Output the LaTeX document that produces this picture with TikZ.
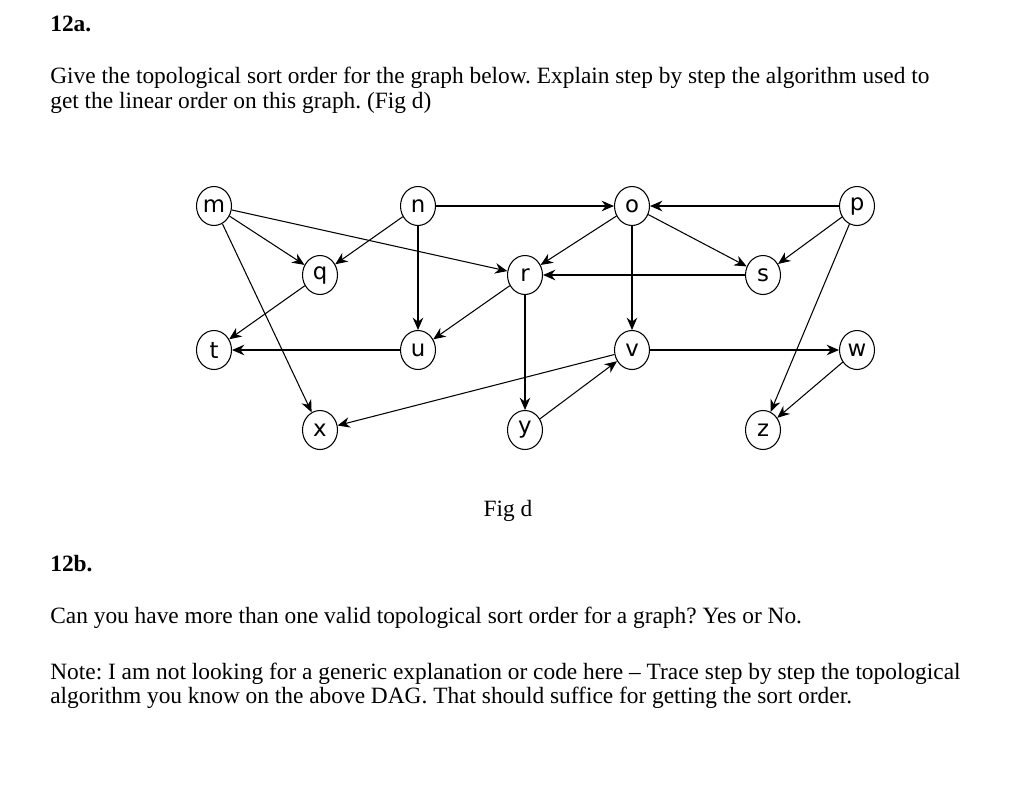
\documentclass[tikz,border=0pt]{standalone}
\usepackage{fontspec}
\usetikzlibrary{shapes.geometric,arrows.meta}
\setmainfont{Liberation Serif}
\newfontfamily\vtxfont{DejaVu Sans}
\frenchspacing
\begin{document}
\begin{tikzpicture}[x=0.02cm, y=-0.02cm,
  vtx/.style={draw, semithick, ellipse, inner sep=0pt, minimum width=0.7cm, minimum height=0.78cm, font=\vtxfont\fontsize{13}{13}\selectfont},
  txt/.style={anchor=base west, inner sep=0pt, font=\fontsize{13.3}{15}\selectfont},
  edge/.style={-{Stealth[length=7pt,width=6pt]}, semithick}]
\useasboundingbox (0,0) rectangle (1024,795);

\node[txt, font=\bfseries\fontsize{13.3}{15}\selectfont] (h1) at (50,31) {12a.};
\node[txt] (l1) at (50,83) {Give the topological sort order for the graph below. Explain step by step the algorithm used to};
\node[txt] (l2) at (50,108) {get the linear order on this graph. (Fig d)};
\node[txt, anchor=base] (cap) at (508,516) {Fig d};
\node[txt, font=\bfseries\fontsize{13.3}{15}\selectfont] (h2) at (50,571) {12b.};
\node[txt] (l3) at (50,623) {Can you have more than one valid topological sort order for a graph? Yes or No.};
\node[txt] (l4) at (50,679) {Note: I am not looking for a generic explanation or code here -- Trace step by step the topological};
\node[txt] (l5) at (50,703) {algorithm you know on the above DAG. That should suffice for getting the sort order.};

% vertices
\node[vtx] (m) at (214,206) {m};
\node[vtx] (n) at (418,206) {n};
\node[vtx] (o) at (632,206) {o};
\node[vtx] (p) at (857,206) {p};
\node[vtx] (q) at (320,275) {q};
\node[vtx] (r) at (525,275) {r};
\node[vtx] (s) at (763,275) {s};
\node[vtx] (t) at (214,350) {t};
\node[vtx] (u) at (418,350) {u};
\node[vtx] (v) at (632,350) {v};
\node[vtx] (w) at (857,350) {w};
\node[vtx] (x) at (320,430) {x};
\node[vtx] (y) at (525,430) {y};
\node[vtx] (z) at (763,430) {z};

% edges
\foreach \a/\b in {m/q, m/r, m/x, n/q, n/u, n/o, p/o, o/r, o/s, o/v, p/s, p/z,
  s/r, q/t, r/u, r/y, u/t, v/w, v/x, y/v, w/z}
  \draw[edge] (\a) -- (\b);
\end{tikzpicture}
\end{document}
